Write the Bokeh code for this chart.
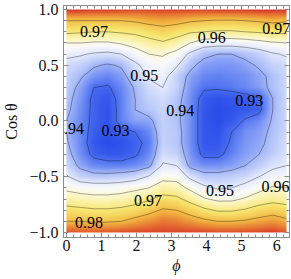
import numpy as np
from bokeh.plotting import figure
from bokeh.models import LinearColorMapper, LinearAxis, FixedTicker, Label
from bokeh.core.properties import value
from bokeh.embed import file_html
from bokeh.resources import INLINE

# ---------------- data ----------------
phi = np.linspace(0, 2 * np.pi, 17)          # grid columns (phi)
cos_theta = [1.0, 0.9, 0.8, 0.7, 0.6, 0.5, 0.4, 0.3, 0.2, 0.1, 0.0,
             -0.1, -0.2, -0.3, -0.4, -0.5, -0.6, -0.7, -0.8, -0.9, -1.0]

z_rows = [
    [0.999, 0.999, 0.998, 0.998, 0.997, 0.996, 0.996, 0.997, 0.997, 0.997, 0.997, 0.998, 0.998, 0.998, 0.999, 0.999, 0.999],
    [0.980, 0.980, 0.980, 0.980, 0.980, 0.981, 0.983, 0.984, 0.983, 0.981, 0.980, 0.979, 0.979, 0.980, 0.981, 0.982, 0.981],
    [0.972, 0.971, 0.970, 0.970, 0.971, 0.972, 0.974, 0.976, 0.974, 0.971, 0.970, 0.969, 0.969, 0.970, 0.971, 0.972, 0.972],
    [0.960, 0.960, 0.959, 0.959, 0.961, 0.964, 0.967, 0.969, 0.966, 0.960, 0.955, 0.954, 0.954, 0.955, 0.957, 0.959, 0.960],
    [0.952, 0.951, 0.949, 0.948, 0.950, 0.955, 0.960, 0.961, 0.957, 0.948, 0.942, 0.940, 0.940, 0.942, 0.945, 0.949, 0.951],
    [0.947, 0.945, 0.941, 0.939, 0.941, 0.948, 0.954, 0.956, 0.951, 0.942, 0.937, 0.936, 0.936, 0.938, 0.941, 0.945, 0.947],
    [0.945, 0.941, 0.936, 0.934, 0.937, 0.945, 0.951, 0.953, 0.945, 0.938, 0.934, 0.933, 0.934, 0.935, 0.938, 0.942, 0.946],
    [0.944, 0.938, 0.930, 0.929, 0.934, 0.941, 0.947, 0.950, 0.945, 0.936, 0.931, 0.931, 0.932, 0.934, 0.937, 0.942, 0.946],
    [0.943, 0.936, 0.928, 0.926, 0.933, 0.940, 0.945, 0.947, 0.943, 0.935, 0.927, 0.925, 0.926, 0.927, 0.929, 0.940, 0.946],
    [0.942, 0.935, 0.928, 0.925, 0.933, 0.940, 0.943, 0.946, 0.942, 0.935, 0.926, 0.924, 0.925, 0.926, 0.928, 0.940, 0.946],
    [0.940, 0.934, 0.928, 0.925, 0.933, 0.938, 0.938, 0.945, 0.942, 0.935, 0.926, 0.924, 0.926, 0.931, 0.934, 0.941, 0.946],
    [0.940, 0.934, 0.927, 0.925, 0.928, 0.930, 0.934, 0.945, 0.943, 0.935, 0.926, 0.925, 0.930, 0.935, 0.937, 0.942, 0.946],
    [0.941, 0.934, 0.926, 0.924, 0.925, 0.928, 0.932, 0.945, 0.943, 0.935, 0.926, 0.926, 0.931, 0.936, 0.938, 0.943, 0.947],
    [0.943, 0.935, 0.928, 0.926, 0.926, 0.929, 0.934, 0.947, 0.945, 0.936, 0.928, 0.928, 0.933, 0.937, 0.940, 0.944, 0.948],
    [0.946, 0.938, 0.934, 0.933, 0.933, 0.934, 0.938, 0.951, 0.950, 0.938, 0.935, 0.935, 0.937, 0.940, 0.944, 0.948, 0.950],
    [0.951, 0.945, 0.943, 0.943, 0.944, 0.946, 0.951, 0.957, 0.957, 0.948, 0.943, 0.943, 0.944, 0.946, 0.950, 0.954, 0.954],
    [0.958, 0.956, 0.955, 0.955, 0.956, 0.958, 0.960, 0.965, 0.964, 0.958, 0.952, 0.949, 0.950, 0.953, 0.957, 0.961, 0.960],
    [0.965, 0.964, 0.963, 0.963, 0.964, 0.966, 0.969, 0.973, 0.972, 0.967, 0.961, 0.958, 0.958, 0.961, 0.965, 0.967, 0.966],
    [0.973, 0.972, 0.971, 0.971, 0.972, 0.974, 0.977, 0.981, 0.980, 0.976, 0.972, 0.969, 0.969, 0.971, 0.974, 0.976, 0.974],
    [0.980, 0.980, 0.979, 0.979, 0.980, 0.983, 0.986, 0.989, 0.988, 0.985, 0.982, 0.980, 0.980, 0.981, 0.983, 0.985, 0.982],
    [0.994, 0.993, 0.993, 0.993, 0.994, 0.995, 0.995, 0.995, 0.995, 0.995, 0.995, 0.994, 0.994, 0.994, 0.995, 0.996, 0.993],
]

contour_levels = [0.93, 0.94, 0.95, 0.96, 0.97, 0.98]

label_text = ["0.97", "0.96", "0.97", "0.95", "0.94", "0.93", "0.93",
              "0.98", "0.97", "0.95", "0.96"]
label_phi = [0.785, 4.15, 6.39, 2.22, 3.25, 5.22, 1.40, 0.645, 2.33, 4.38, 5.97]
label_cos = [0.803, 0.749, 0.83, 0.408, 0.094, 0.184, -0.085, -0.91, -0.713, -0.623, -0.587]
label_align = ["center", "center", "right", "center", "center", "center", "center",
               "center", "center", "center", "center"]
edge_label_text = ["0.94"]
edge_label_phi = [0.50]
edge_label_cos = [-0.067]

x_ticks = [0, 1, 2, 3, 4, 5, 6]
y_ticks = [-1.0, -0.5, 0.0, 0.5, 1.0]
y_tick_labels = ["\u22121.0", "\u22120.5", "0.0", "0.5", "1.0"]

# ---------------- field arrays ----------------
cy = np.array(cos_theta)[::-1]
Z = np.array(z_rows)[::-1, :]             # rows now ascending in cos(theta)

# smooth shading for the density image (bilinear resampling of the grid)
xf = np.linspace(phi[0], phi[-1], 460)
yf = np.linspace(cy[0], cy[-1], 460)
Zx = np.array([np.interp(xf, phi, row) for row in Z])
Zf = np.array([np.interp(yf, cy, Zx[:, j]) for j in range(len(xf))]).T

# Temperature-map like palette, stops given on the value scale
LOW, HIGH = 0.924, 0.998
stops = [(0.924, (42, 77, 234)), (0.930, (74, 109, 240)), (0.936, (125, 152, 245)),
         (0.942, (178, 195, 249)), (0.949, (224, 231, 252)), (0.956, (250, 250, 250)),
         (0.963, (252, 246, 192)), (0.972, (247, 230, 110)), (0.982, (242, 180, 65)),
         (0.990, (230, 115, 50)), (0.998, (212, 42, 40))]
palette = []
for v in np.linspace(LOW, HIGH, 256):
    for (v0, c0), (v1, c1) in zip(stops[:-1], stops[1:]):
        if v0 <= v <= v1 + 1e-12:
            f = (v - v0) / (v1 - v0)
            rgb = [int(round(a + (b - a) * f)) for a, b in zip(c0, c1)]
            palette.append("#%02x%02x%02x" % tuple(rgb))
            break
mapper = LinearColorMapper(palette=palette, low=LOW, high=HIGH)

# ---------------- figure ----------------
SERIF = "Liberation Serif"
p = figure(width=291, height=279, x_range=(-0.084, 6.367), y_range=(-1.045, 1.036),
           min_border_left=59, min_border_right=2, min_border_top=5, min_border_bottom=42,
           output_backend="svg", toolbar_location=None)
p.grid.visible = False
p.outline_line_color = "#8c8c8c"
p.background_fill_color = "white"

p.image(image=[Zf], x=phi[0], y=cy[0], dw=phi[-1] - phi[0], dh=cy[-1] - cy[0],
        color_mapper=mapper)

p.contour(x=phi, y=cy, z=Z, levels=contour_levels, fill_color=None,
          line_color="black", line_alpha=0.38, line_width=0.9)

for t, xx, yy, al in zip(label_text, label_phi, label_cos, label_align):
    p.add_layout(Label(x=xx, y=yy, text=t, text_align=al, text_baseline="middle",
                       text_font=SERIF, text_font_size="16px", text_color="black"))
p.text(x=edge_label_phi, y=edge_label_cos, text=edge_label_text, text_align="right",
       text_baseline="middle", text_font=value(SERIF), text_font_size=value("16px"),
       text_color="black")

x_minor = list(np.round(np.arange(0, 6.41, 0.2), 2))
y_minor = list(np.round(np.arange(-1.0, 1.01, 0.1), 2))

def style_axis(ax):
    ax.axis_line_color = "#8c8c8c"
    ax.major_tick_line_color = "#8c8c8c"
    ax.minor_tick_line_color = "#8c8c8c"
    ax.major_tick_in = 5
    ax.major_tick_out = 0
    ax.minor_tick_in = 3
    ax.minor_tick_out = 0
    ax.major_label_text_font = SERIF
    ax.major_label_text_font_size = "16px"
    ax.major_label_text_color = "#111111"
    ax.axis_label_text_font = SERIF
    ax.axis_label_text_font_size = "16px"
    ax.axis_label_text_color = "#111111"

xa = p.xaxis[0]
xa.ticker = FixedTicker(ticks=x_ticks, minor_ticks=x_minor)
style_axis(xa)
xa.major_label_standoff = 2
xa.axis_label = "\u03d5"
xa.axis_label_text_font_style = "italic"
xa.axis_label_standoff = 3

ya = p.yaxis[0]
ya.ticker = FixedTicker(ticks=y_ticks, minor_ticks=y_minor)
style_axis(ya)
ya.major_label_overrides = {t: s for t, s in zip(y_ticks, y_tick_labels)}
ya.major_label_standoff = 5
ya.axis_label = "Cos \u03b8"
ya.axis_label_text_font_style = "normal"
ya.axis_label_standoff = 6

top = LinearAxis(ticker=FixedTicker(ticks=x_ticks, minor_ticks=x_minor))
right = LinearAxis(ticker=FixedTicker(ticks=y_ticks, minor_ticks=y_minor))
for ax, ticks in ((top, x_ticks), (right, y_ticks)):
    style_axis(ax)
    ax.major_label_overrides = {t: "" for t in ticks}
    ax.major_label_text_font_size = "0px"
    ax.major_label_standoff = 0
p.add_layout(top, "above")
p.add_layout(right, "right")

open("out.html", "w").write(file_html(p, INLINE))
